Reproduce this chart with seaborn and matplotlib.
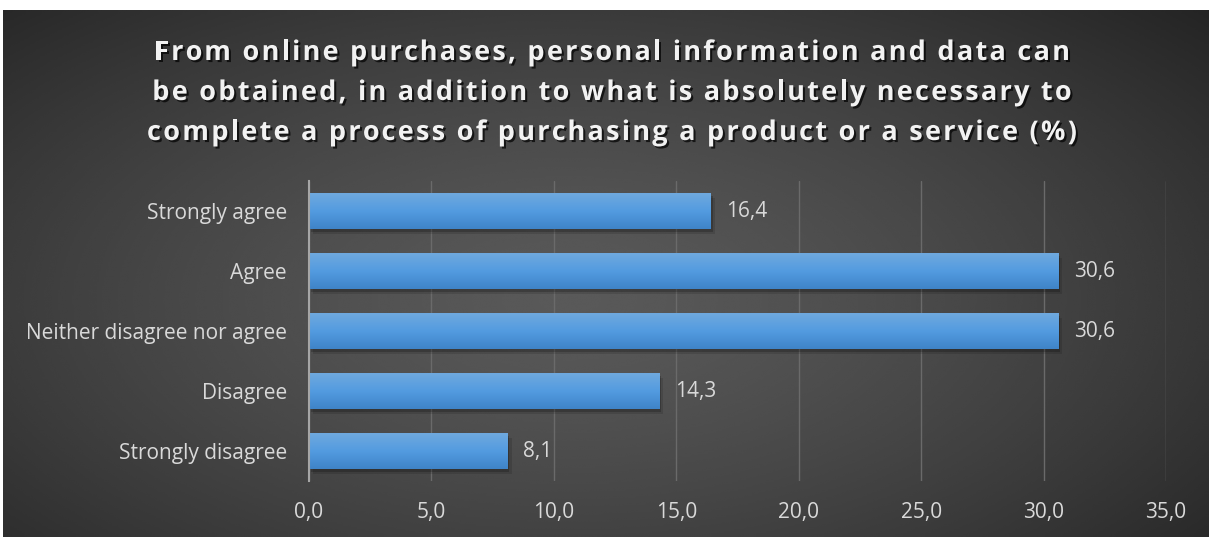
import numpy as np
import matplotlib
matplotlib.use("Agg")
import matplotlib.pyplot as plt
import matplotlib.patheffects as pe
from matplotlib.ticker import FuncFormatter
from matplotlib.font_manager import FontProperties
from matplotlib.colors import LinearSegmentedColormap
import seaborn as sns
import pandas as pd

categories = ["Strongly agree", "Agree", "Neither disagree nor agree", "Disagree", "Strongly disagree"]
values = [16.4, 30.6, 30.6, 14.3, 8.1]
x_ticks = [0, 5, 10, 15, 20, 25, 30, 35]
title_lines = [
    "From online purchases, personal information and data can",
    "be obtained, in addition to what is absolutely necessary to",
    "complete a process of purchasing a product or a service (%)",
]

df = pd.DataFrame({"answer": categories, "share": values})

sns.set_theme(style="dark")
plt.rcParams["font.family"] = ["Open Sans", "DejaVu Sans"]

W, H = 1213, 537
fig = plt.figure(figsize=(W / 100, H / 100), dpi=100, facecolor="white")

# dark radial-gradient panel behind the chart
bg = fig.add_axes([3 / W, 0, 1206 / W, 527 / H], zorder=0)
yy, xx = np.mgrid[0:1:300j, 0:1:600j]
r = np.sqrt(((xx - 0.47) / 0.75) ** 2 + ((yy - 0.55) / 0.85) ** 2)
shade = np.clip(0.35 - 0.22 * r ** 1.4, 0.11, 1)
bg.imshow(shade, cmap="gray", vmin=0, vmax=1, aspect="auto",
          extent=(0, 1, 0, 1), interpolation="bicubic")
bg.set_axis_off()

ax = fig.add_axes([309 / W, 1 - 481 / H, 857 / W, 300 / H], zorder=1)
ax.set_facecolor("none")

sns.barplot(data=df, x="share", y="answer", orient="h", width=0.6,
            color="#5198dc", saturation=1, ax=ax)

ax.set_xlim(0, 35)
ylim = ax.get_ylim()

# vertical light-to-dark fill on each bar, plus a soft drop shadow
grad = np.linspace(0, 1, 64).reshape(-1, 1)
bar_cmap = LinearSegmentedColormap.from_list("bar", ["#6fa9de", "#539be0", "#3f84c8"])
for p in ax.patches:
    x0, y0 = p.get_x(), p.get_y()
    w, h = p.get_width(), p.get_height()
    p.set_edgecolor("none")
    p.set_path_effects([pe.SimplePatchShadow(offset=(3, -3.5), shadow_rgbFace="black", alpha=0.12),
                        pe.SimplePatchShadow(offset=(1.5, -2), shadow_rgbFace="black", alpha=0.2),
                        pe.Normal()])
    im = ax.imshow(grad, cmap=bar_cmap, aspect="auto", extent=(x0, x0 + w, y0 + h, y0),
                   origin="upper", zorder=3, interpolation="bilinear")
    im.set_clip_path(p)
ax.set_xlim(0, 35)
ax.set_ylim(ylim)

for p, v in zip(ax.patches, values):
    ax.text(p.get_width() + 0.65, p.get_y() + p.get_height() / 2,
            f"{v:.1f}".replace(".", ","), va="center", ha="left",
            fontsize=15, color="#d9d9d9", zorder=4)

ax.set_xticks(x_ticks)
ax.xaxis.set_major_formatter(FuncFormatter(lambda v, _: f"{v:.1f}".replace(".", ",")))
ax.grid(axis="x", color="#6a6a6a", linewidth=1)
ax.grid(axis="y", visible=False)
ax.set_axisbelow(True)
for s in ["top", "right", "bottom"]:
    ax.spines[s].set_visible(False)
ax.spines["left"].set_color("#a6a6a6")
ax.spines["left"].set_linewidth(1.5)
ax.spines["left"].set_zorder(5)
ax.tick_params(axis="x", length=0, pad=15, labelsize=15, labelcolor="#d9d9d9")
ax.tick_params(axis="y", length=0, pad=16, labelsize=15, labelcolor="#d9d9d9")
ax.set_xlabel("")
ax.set_ylabel("")

# letter-spaced bold title, laid out one glyph at a time
fp = FontProperties(family="Open Sans", weight="bold", size=19.5)
renderer = fig.canvas.get_renderer()
ref_w = renderer.get_text_width_height_descent("l", fp, ismath=False)[0]


def advance(s):
    return renderer.get_text_width_height_descent(s + "l", fp, ismath=False)[0] - ref_w


widest = max(title_lines, key=advance)
tracking = (930 - advance(widest)) / (len(widest) - 1)
center_x = 612
shadow = [pe.withSimplePatchShadow(offset=(1.5, -1.5), shadow_rgbFace="black", alpha=0.7)]
for line, baseline in zip(title_lines, [60, 100, 140]):
    total = advance(line) + tracking * (len(line) - 1)
    start = center_x - total / 2
    for i, ch in enumerate(line):
        if ch == " ":
            continue
        xpix = start + advance(line[:i]) + tracking * i
        fig.text(xpix / W, 1 - baseline / H, ch, fontproperties=fp, ha="left",
                 va="baseline", color="#f2f2f2", zorder=6, path_effects=shadow)

fig.savefig("out.png", dpi=100, facecolor="white")
